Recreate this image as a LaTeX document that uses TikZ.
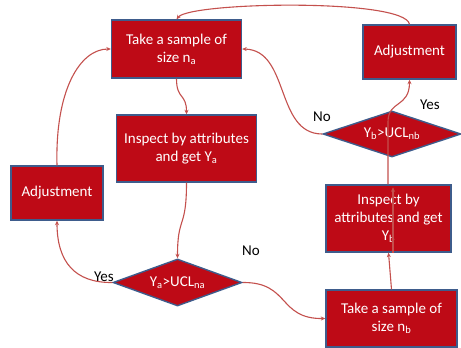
\documentclass[tikz,border=0pt]{standalone}
\usepackage{fontspec}
\setmainfont{Carlito}
\usetikzlibrary{shapes.geometric,arrows.meta}
\definecolor{boxred}{RGB}{190,10,22}
\definecolor{boxedge}{RGB}{62,92,140}
\definecolor{linkred}{RGB}{196,80,77}
\tikzset{
  procbox/.style={draw=boxedge, line width=1.4pt, fill=boxred, text=white,
    font=\fontsize{15}{18}\selectfont, align=center, inner sep=0pt},
  decbox/.style={diamond, draw=boxedge, line width=1.4pt, fill=boxred, text=white,
    font=\fontsize{15}{18}\selectfont, inner sep=0pt, aspect=2.8},
  conn/.style={draw=linkred, line width=1.1pt, -{Stealth[length=4.5pt,width=4pt]}},
  lbl/.style={font=\fontsize{15}{18}\selectfont, text=black, inner sep=0pt}
}
\begin{document}
\begin{tikzpicture}[x=1pt,y=-1pt]
\useasboundingbox[fill=white] (0,0) rectangle (461,348);
% nodes
\node[procbox, minimum width=130pt, minimum height=58pt] (boxA) at (176.5,49) {Take a sample of\\size n\textsubscript{a}};
\node[procbox, minimum width=140pt, minimum height=67pt] (inspA) at (186.5,148.5) {Inspect by attributes\\and get Y\textsubscript{a}};
\node[procbox, minimum width=92pt, minimum height=54pt] (adjA) at (57,193) {Adjustment};
\node[decbox, minimum width=129pt, minimum height=47pt] (decA) at (177.5,282.5) {Y\textsubscript{a}>UCL\textsubscript{na}};
\node[procbox, minimum width=93pt, minimum height=54pt] (adjB) at (409.5,52) {Adjustment};
\node[decbox, minimum width=138pt, minimum height=46pt] (decB) at (392,134) {Y\textsubscript{b}>UCL\textsubscript{nb}};
\node[procbox, minimum width=125pt, minimum height=67pt] (inspB) at (388.5,218.5) {Inspect by\\attributes and get\\Y\textsubscript{b}};
\node[procbox, minimum width=131pt, minimum height=57pt] (boxB) at (391.5,318.5) {Take a sample of\\size n\textsubscript{b}};
% labels
\node[lbl] (yesA) at (104,277) {Yes};
\node[lbl] (noA) at (251,251) {No};
\node[lbl] (noB) at (322,117) {No};
\node[lbl] (yesB) at (430,105) {Yes};
% connectors
\draw[conn] (boxA.south) .. controls (176.5,100) and (186.5,93) .. (inspA.north);
\draw[conn] (inspA.south) .. controls (186.5,230) and (177.5,215) .. (decA.north);
\draw[conn] (decA.west) .. controls (75,283) and (57,262) .. (adjA.south);
\draw[conn] (adjA.north) .. controls (55,90) and (80,49) .. (boxA.west);
\draw[conn] (decA.east) .. controls (290,282) and (278,319) .. (boxB.west);
\draw[conn] (boxB.north) -- (inspB.south);
\draw[conn] ([xshift=4.5pt]inspB.south) -- ([xshift=4.5pt,yshift=-3pt]inspB.north);
\draw[conn] ([xshift=-0.5pt]inspB.north) -- (388,122) .. controls (388,100) and (409.5,108) .. (adjB.south);
\draw[conn] (decB.west) .. controls (275,134) and (290,50) .. (boxA.east);
\draw[conn] (adjB.north) .. controls (405,-2) and (190,2) .. (boxA.north);
\end{tikzpicture}
\end{document}
